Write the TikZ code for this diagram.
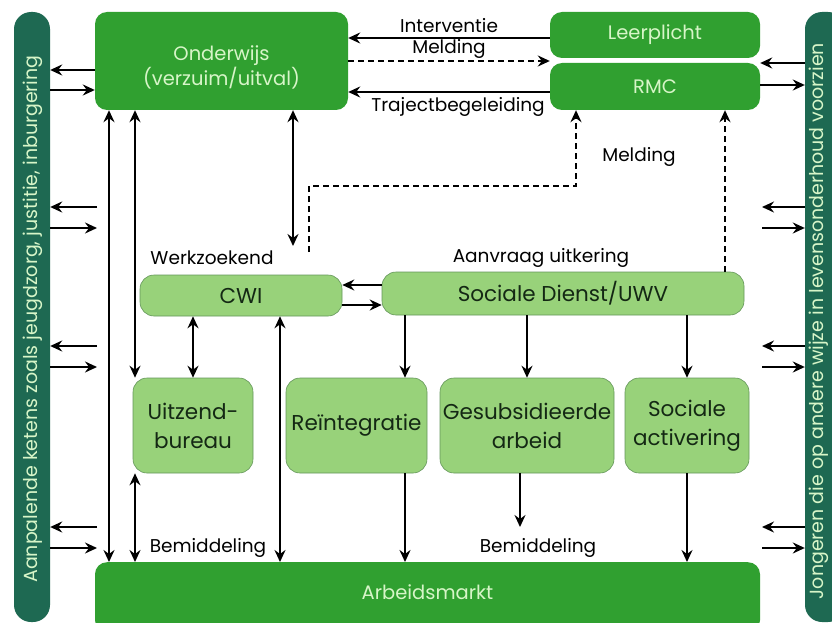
\documentclass[tikz,border=0pt]{standalone}
\usepackage{fontspec}
\setmainfont{Poppins}
\usetikzlibrary{arrows.meta}
\definecolor{dgreen}{RGB}{48,160,48}
\definecolor{lgreen}{RGB}{152,210,122}
\definecolor{lborder}{RGB}{100,150,90}
\definecolor{teal}{RGB}{30,105,82}
\definecolor{ltext}{RGB}{215,245,200}
\definecolor{dtext}{RGB}{20,40,20}
\tikzset{
  darkbox/.style={fill=dgreen, draw=none, rounded corners=12pt, text=ltext, font=\fontsize{19.5}{25}\selectfont, align=center, inner sep=0pt},
  lightbox/.style={fill=lgreen, draw=lborder, line width=0.6pt, rounded corners=14pt, text=dtext, font=\fontsize{21.5}{29}\selectfont, align=center, inner sep=0pt},
  sidebar/.style={fill=teal, draw=none, rounded corners=17pt, minimum width=36pt, minimum height=610pt, inner sep=0pt},
  bartext/.style={text=ltext, font=\fontsize{19}{22}\selectfont, rotate=90, inner sep=0pt},
  lbl/.style={font=\fontsize{18.5}{22}\selectfont, text=black, inner sep=1pt},
  tip/.style={-{Stealth[length=12pt,width=11pt,inset=4pt]}},
  arr/.style={line width=1.8pt, tip},
  darr/.style={line width=1.8pt, {Stealth[length=12pt,width=11pt,inset=4pt]}-{Stealth[length=12pt,width=11pt,inset=4pt]}},
  dsh/.style={line width=2pt, dash pattern=on 6pt off 4pt},
}
\begin{document}
\begin{tikzpicture}[x=1pt,y=-1pt]
\useasboundingbox (0,0) rectangle (832,623);
% side bars
\node[sidebar] (lbar) at (32,317) {};
\node[bartext] at (33,319) {Aanpalende ketens zoals jeugdzorg, justitie, inburgering};
\node[sidebar, minimum width=40pt] (rbar) at (825,317) {};
\node[bartext] at (819,321) {Jongeren die op andere wijze in levensonderhoud voorzien};
% boxes
\node[darkbox, minimum width=253pt, minimum height=98pt] (ond) at (221.5,61) {};
\node[text=ltext, font=\fontsize{19.5}{25}\selectfont, align=center, inner sep=0pt] at (221.5,67) {Onderwijs\\(verzuim/uitval)};
\node[darkbox, minimum width=210pt, minimum height=46pt] (leer) at (655,35) {Leerplicht};
\node[darkbox, minimum width=210pt, minimum height=47pt] (rmc) at (655,86.5) {RMC};
\node[lightbox, minimum width=202pt, minimum height=41pt] (cwi) at (241,295.5) {CWI};
\node[lightbox, minimum width=362pt, minimum height=43pt] (sd) at (563,293.5) {Sociale Dienst/UWV};
\node[lightbox, minimum width=120pt, minimum height=95pt] (uitz) at (193,425.5) {Uitzend-\\bureau};
\node[lightbox, minimum width=141pt, minimum height=95pt] (rein) at (356.5,425.5) {Reïntegratie};
\node[lightbox, minimum width=174pt, minimum height=95pt] (gesub) at (527,425.5) {Gesubsidieerde\\arbeid};
\node[lightbox, minimum width=124pt, minimum height=95pt] (socact) at (687,425.5) {Sociale\\activering};
\node[darkbox, minimum width=665pt, minimum height=70pt, anchor=north] (arb) at (427.5,562) {};
\node[text=ltext, font=\fontsize{19.5}{22}\selectfont] at (427.5,592) {Arbeidsmarkt};
% labels
\node[lbl] at (449,26) {Interventie};
\node[lbl] at (449,49) {Melding};
\node[lbl] at (458,107) {Trajectbegeleiding};
\node[lbl] at (639,157) {Melding};
\node[lbl] at (212,258) {Werkzoekend};
\node[lbl] at (541,258) {Aanvraag uitkering};
\node[lbl] at (208,548) {Bemiddeling};
\node[lbl] at (538,548) {Bemiddeling};
% Onderwijs <-> left bar
\draw[arr] (ond.west |- 0,70) -- (lbar.east |- 0,70);
\draw[arr] (lbar.east |- 0,90) -- (ond.west |- 0,90);
% side arrows left
\foreach \ya/\yb in {207/228, 346/367, 527/548}{
  \coordinate (la) at (97,\ya);
  \coordinate (lb) at (97,\yb);
  \draw[arr] (la) -- (lbar.east |- la);
  \draw[arr] (lbar.east |- lb) -- (lb);
}
% right bar arrows near RMC
\draw[arr] (rbar.west |- 0,63) -- (rmc.east |- 0,63);
\draw[arr] (rmc.east |- 0,85) -- (rbar.west |- 0,85);
\foreach \ya/\yb in {207/228, 346/367, 527/548}{
  \coordinate (ra) at (762,\ya);
  \coordinate (rb) at (762,\yb);
  \draw[arr] (rbar.west |- ra) -- (ra);
  \draw[arr] (rb) -- (rbar.west |- rb);
}
% Onderwijs <-> Leerplicht/RMC
\draw[arr] (leer.west |- 0,38) -- (ond.east |- 0,38);
\draw[dsh, tip] (ond.east |- 0,61) -- (leer.west |- 0,61);
\draw[arr] (rmc.west |- 0,92) -- (ond.east |- 0,92);
% verticals from Onderwijs
\draw[darr] (ond.south -| 109,0) -- (arb.north -| 109,0);
\draw[darr] (ond.south -| 135,0) -- (uitz.north -| 135,0);
\draw[darr] (uitz.south -| 135,0) -- (arb.north -| 135,0);
\coordinate (wz) at (293,246);
\draw[darr] (ond.south -| wz) -- (wz);
% dashed Melding lines
\coordinate (d1) at (309,252);
\coordinate (d2) at (309,186);
\coordinate (d3) at (576,186);
\draw[dsh, tip] (d1) -- (d2) -- (d3) -- (rmc.south -| d3);
\draw[dsh, tip] (sd.north -| 725,0) -- (rmc.south -| 725,0);
% CWI <-> SD
\draw[arr] (sd.west |- 0,285) -- (cwi.east |- 0,285);
\draw[arr] (cwi.east |- 0,305) -- (sd.west |- 0,305);
% CWI down
\draw[darr] (cwi.south -| uitz.north) -- (uitz.north);
\draw[darr] (cwi.south -| 280,0) -- (arb.north -| 280,0);
% SD to programmes
\draw[arr] (sd.south -| 405,0) -- (rein.north -| 405,0);
\draw[arr] (sd.south -| gesub.north) -- (gesub.north);
\draw[arr] (sd.south -| socact.north) -- (socact.north);
% programmes to Arbeidsmarkt
\draw[arr] (rein.south -| 405,0) -- (arb.north -| 405,0);
\coordinate (gb) at (520,527);
\draw[arr] (gesub.south -| gb) -- (gb);
\draw[arr] (socact.south) -- (arb.north -| socact.south);
\end{tikzpicture}
\end{document}
